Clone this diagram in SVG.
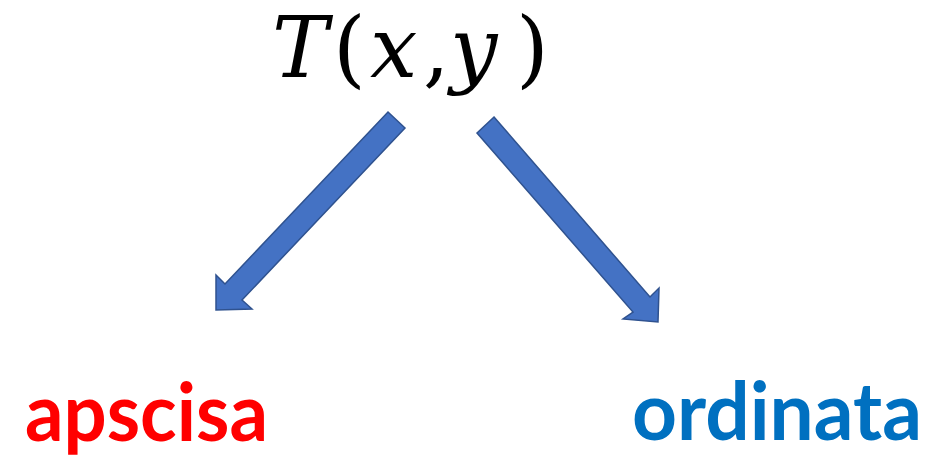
<svg xmlns="http://www.w3.org/2000/svg" width="935" height="458" viewBox="0 0 935 458">
<style>
.arrow{fill:#4472C4;stroke:#2F528F;stroke-width:1.5;stroke-linejoin:miter}
.math{font-family:"DejaVu Serif","Liberation Serif",serif;font-size:84px;fill:#000}
.it{font-style:italic}
.lbl{font-family:Lato,"Open Sans","Liberation Sans",sans-serif;font-weight:bold;font-size:80px}
</style>
<rect width="935" height="458" fill="#fff"/>
<g id="node-T">
<text class="math" y="77"><tspan class="it" x="272">T</tspan><tspan x="333">(</tspan><tspan class="it" x="370">x</tspan><tspan x="423">,</tspan><tspan class="it" x="450">y</tspan><tspan x="516">)</tspan></text>
</g>
<g id="connectors">
<polygon class="arrow" points="388,112 405,128 242,300 252,309 216,310 216,275 225,284"/>
<polygon class="arrow" points="494,117 650,297 659,288 658,322 623,319 633,312 477,133"/>
</g>
<g id="node-apscisa">
<text class="lbl" x="25" y="441" fill="#FF0000" textLength="243" lengthAdjust="spacingAndGlyphs">apscisa</text>
</g>
<g id="node-ordinata">
<text class="lbl" x="632" y="440" fill="#0070C0" textLength="290" lengthAdjust="spacingAndGlyphs">ordinata</text>
</g>
</svg>
